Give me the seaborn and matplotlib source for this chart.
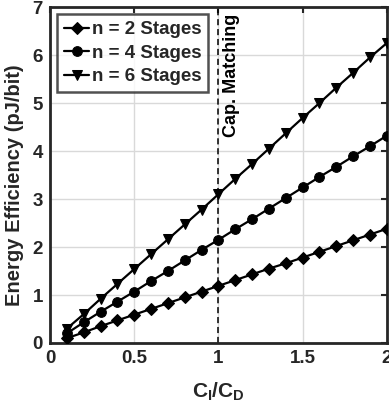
import matplotlib
matplotlib.use("Agg")
import matplotlib.pyplot as plt
import seaborn as sns
import pandas as pd
import numpy as np

ratio = [0.1, 0.2, 0.3, 0.4, 0.5, 0.6, 0.7, 0.8, 0.9, 1.0,
         1.1, 1.2, 1.3, 1.4, 1.5, 1.6, 1.7, 1.8, 1.9, 2.0]
n2 = [0.10, 0.22, 0.35, 0.47, 0.59, 0.71, 0.83, 0.95, 1.07, 1.19,
      1.31, 1.43, 1.55, 1.66, 1.78, 1.90, 2.02, 2.14, 2.26, 2.38]
n4 = [0.20, 0.43, 0.65, 0.86, 1.07, 1.29, 1.50, 1.72, 1.94, 2.15,
      2.37, 2.58, 2.80, 3.02, 3.24, 3.46, 3.67, 3.89, 4.10, 4.32]
n6 = [0.30, 0.60, 0.92, 1.23, 1.54, 1.85, 2.16, 2.47, 2.78, 3.10,
      3.42, 3.73, 4.05, 4.37, 4.69, 5.00, 5.32, 5.63, 5.95, 6.25]
labels = ["n = 2 Stages", "n = 4 Stages", "n = 6 Stages"]
markers = ["D", "o", "v"]
xticks = [0, 0.5, 1, 1.5, 2]
xticklabels = ["0", "0.5", "1", "1.5", "2"]
yticks = [0, 1, 2, 3, 4, 5, 6, 7]

sns.set_theme(style="white")
plt.rcParams['font.family'] = ['Liberation Sans', 'DejaVu Sans']
plt.rcParams['font.weight'] = 'bold'
plt.rcParams['mathtext.fontset'] = 'custom'
plt.rcParams['mathtext.rm'] = 'Liberation Sans:bold'
plt.rcParams['mathtext.bf'] = 'Liberation Sans:bold'
plt.rcParams['mathtext.it'] = 'Liberation Sans:bold'

fig = plt.figure(figsize=(3.89, 4.13), dpi=100)
ax = fig.add_axes([0.1285, 0.1695, 0.866, 0.8135])

df = pd.DataFrame({"x": ratio * 3, "y": n2 + n4 + n6,
                   "series": [labels[0]] * 20 + [labels[1]] * 20 + [labels[2]] * 20})

for lab, mk in zip(labels, markers):
    sub = df[df.series == lab]
    sns.lineplot(data=sub, x="x", y="y", ax=ax, color="black", marker=mk,
                 markersize={"D": 6.5, "o": 7, "v": 7.5}[mk], markeredgecolor="black",
                 linewidth=1.6, label=lab, zorder=3)

ax.axvline(1.0, color="black", linestyle=(0, (4, 2.5)), linewidth=1.1, zorder=2)
ax.text(1.025, 6.85, "Cap. Matching", rotation=90, ha="left", va="top",
        fontsize=13, fontweight="bold", color="black")

ax.set_xlim(0, 2)
ax.set_ylim(0, 7)
ax.set_xticks(xticks)
ax.set_xticklabels(xticklabels)
ax.set_yticks(yticks)
ax.grid(True, color="#d9d9d9", linewidth=1.0, zorder=0)
ax.set_axisbelow(True)
ax.tick_params(direction="in", length=4, width=1.5, top=True, right=True,
               labelsize=13.5, colors="#262626", pad=5)
for lbl in ax.get_xticklabels() + ax.get_yticklabels():
    lbl.set_fontweight("bold")
for s in ax.spines.values():
    s.set_linewidth(2)
    s.set_color("#262626")

ax.set_xlabel(r"$\mathbf{C_I/C_D}$", fontsize=15, color="#262626", labelpad=10)
ax.set_ylabel("Energy Efficiency (pJ/bit)", fontsize=14.5, fontweight="bold",
              color="#262626", labelpad=0)
ax.yaxis.set_label_coords(-0.078, 0.47)

leg = ax.legend(loc="upper left", bbox_to_anchor=(0.022, 0.978), frameon=True,
                fancybox=False, edgecolor="#262626", fontsize=13.5,
                handlelength=1.35, handletextpad=0.15, borderpad=0.35,
                labelspacing=0.35, borderaxespad=0.0)
leg.get_frame().set_linewidth(1.8)
for t in leg.get_texts():
    t.set_fontweight("bold")

fig.savefig("out.png", dpi=100)
